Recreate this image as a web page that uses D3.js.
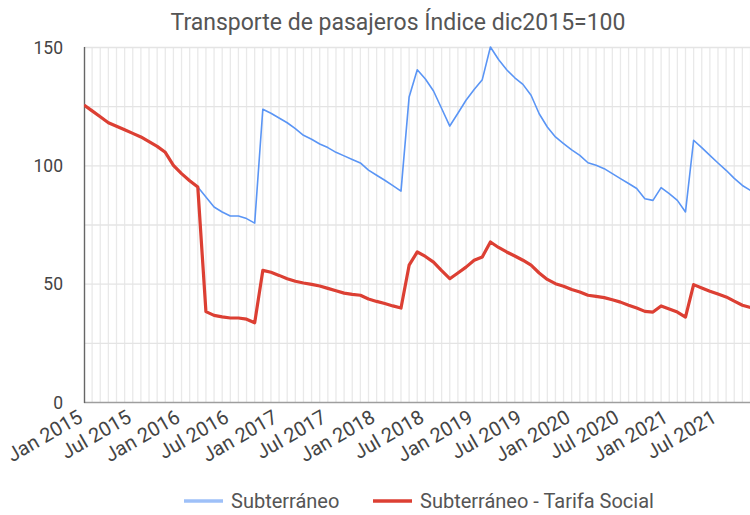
<!DOCTYPE html>
<html>
<head>
<meta charset="utf-8">
<script src="https://cdn.jsdelivr.net/npm/d3@7"></script>
<style>
  body { margin: 0; background: #fff; }
  text { font-family: Roboto, "Noto Sans", sans-serif; }
</style>
</head>
<body>
<div id="grafico"></div>
<script>
// Datos mensuales desde Jan 2015 (indice 0)
const subterraneo = [
  125.5, 123, 120.5, 118, 116.5, 115, 113.5, 112, 110, 108, 105.5, 100,
  96.5, 93.5, 90.8, 86.6, 82.4, 80.3, 78.6, 78.6, 77.5, 75.6, 123.7, 122,
  120, 118, 115.5, 112.7, 111, 109, 107.5, 105.5, 104, 102.5, 101, 98,
  95.8, 93.7, 91.4, 89.1, 128.9, 140.4, 136.5, 131.4, 124, 116.6, 122, 127.5,
  132, 136.2, 150, 144.7, 140.4, 137, 134.2, 129.6, 121.8, 116.2, 112, 109.2,
  106.5, 104.2, 101.1, 100, 98.6, 96.5, 94.4, 92.3, 90.2, 85.9, 85.2, 90.6,
  88, 85.2, 80.3, 110.6, 107.5, 104.2, 101, 97.9, 94.5, 91.5, 89.4, 88
];
const tarifaSocial = [
  125.5, 123, 120.5, 118, 116.5, 115, 113.5, 112, 110, 108, 105.5, 100,
  96.5, 93.5, 90.8, 38.2, 36.6, 36, 35.5, 35.5, 35, 33.5, 55.6, 54.8,
  53.5, 52.1, 51, 50.3, 49.7, 49, 48, 47, 46, 45.5, 45.1, 43.5,
  42.5, 41.6, 40.6, 39.7, 57.8, 63.4, 61.5, 59.1, 55.5, 52.1, 54.5, 57,
  59.9, 61.3, 67.6, 65.3, 63.4, 61.7, 59.9, 57.8, 54.5, 51.8, 50, 48.9,
  47.5, 46.5, 45.1, 44.6, 44.1, 43.2, 42.2, 40.9, 39.7, 38.3, 38, 40.6,
  39.3, 38, 35.9, 49.6, 48.2, 46.8, 45.6, 44.4, 42.6, 40.9, 39.9, 39.5
];
const etiquetasX = [
  "Jan 2015", "Jul 2015", "Jan 2016", "Jul 2016", "Jan 2017", "Jul 2017",
  "Jan 2018", "Jul 2018", "Jan 2019", "Jul 2019", "Jan 2020", "Jul 2020",
  "Jan 2021", "Jul 2021"
];
const ticksY = [0, 50, 100, 150];
const gridY = [0, 25, 50, 75, 100, 125, 150];
const series = [
  { nombre: "Subterráneo", valores: subterraneo, color: "#5a95f5", ancho: 1.6, leyenda: "#9ec0f8" },
  { nombre: "Subterráneo - Tarifa Social", valores: tarifaSocial, color: "#dc3f33", ancho: 3.2, leyenda: "#dc3f33" }
];

const width = 750;
const height = 515;
const margin = { top: 47, left: 84, bottom: 402 };

d3.select("#grafico").html("");

const svg = d3
  .select("#grafico")
  .append("svg")
  .attr("width", width)
  .attr("height", height);

const x = d3.scaleLinear().domain([0, 78]).range([margin.left, 718]);
const y = d3.scaleLinear().domain([0, 150]).range([margin.bottom, margin.top]);

svg.append("defs").append("clipPath").attr("id", "clip")
  .append("rect")
  .attr("x", margin.left).attr("y", 0)
  .attr("width", width - margin.left).attr("height", height);

// Grilla vertical mensual
svg.append("g")
  .selectAll("line")
  .data(d3.range(1, subterraneo.length))
  .join("line")
  .attr("x1", (d) => x(d)).attr("x2", (d) => x(d))
  .attr("y1", y(150)).attr("y2", y(0))
  .attr("stroke", "#e9e9e9")
  .attr("stroke-width", 1.3);

// Grilla horizontal
svg.append("g")
  .selectAll("line")
  .data(gridY)
  .join("line")
  .attr("x1", margin.left).attr("x2", width)
  .attr("y1", (d) => y(d) + 0.5).attr("y2", (d) => y(d) + 0.5)
  .attr("stroke", (d) => (d === 0 ? "#9e9e9e" : "#e4e4e4"))
  .attr("stroke-width", (d) => (d === 0 ? 1.5 : 1.3));

// Eje Y
svg.append("line")
  .attr("x1", margin.left + 0.5).attr("x2", margin.left + 0.5)
  .attr("y1", y(150)).attr("y2", y(0) + 1)
  .attr("stroke", "#666")
  .attr("stroke-width", 1.4);

svg.append("g")
  .selectAll("text")
  .data(ticksY)
  .join("text")
  .attr("x", 63)
  .attr("y", (d) => y(d) + 6.5)
  .attr("text-anchor", "end")
  .style("font-size", "17.5px")
  .attr("fill", "#444")
  .text((d) => d);

// Etiquetas X rotadas
svg.append("g")
  .selectAll("text")
  .data(etiquetasX)
  .join("text")
  .attr("transform", (d, i) => `translate(${x(i * 6)}, 421) rotate(-30)`)
  .attr("text-anchor", "end")
  .style("font-size", "20px")
  .attr("fill", "#444")
  .text((d) => d);

// Lineas
const linea = d3.line()
  .x((d, i) => x(i))
  .y((d) => y(d));

svg.append("g")
  .attr("clip-path", "url(#clip)")
  .selectAll("path")
  .data(series)
  .join("path")
  .attr("d", (d) => linea(d.valores))
  .attr("fill", "none")
  .attr("stroke", (d) => d.color)
  .attr("stroke-width", (d) => d.ancho)
  .attr("stroke-linejoin", "round");

// Titulo
svg.append("text")
  .attr("x", 398)
  .attr("y", 30)
  .attr("text-anchor", "middle")
  .style("font-size", "23px")
  .attr("fill", "#555")
  .text("Transporte de pasajeros Índice dic2015=100");

// Leyenda
const legendX = [184, 373];
series.forEach((s, i) => {
  const g = svg.append("g").attr("transform", `translate(${legendX[i]}, 501)`);
  g.append("line")
    .attr("x1", 0).attr("x2", 39)
    .attr("stroke", s.leyenda)
    .attr("stroke-width", 3.5);
  g.append("text")
    .attr("x", 47)
    .attr("y", 7)
    .style("font-size", "20px")
    .attr("fill", "#555")
    .text(s.nombre);
});
</script>
</body>
</html>
